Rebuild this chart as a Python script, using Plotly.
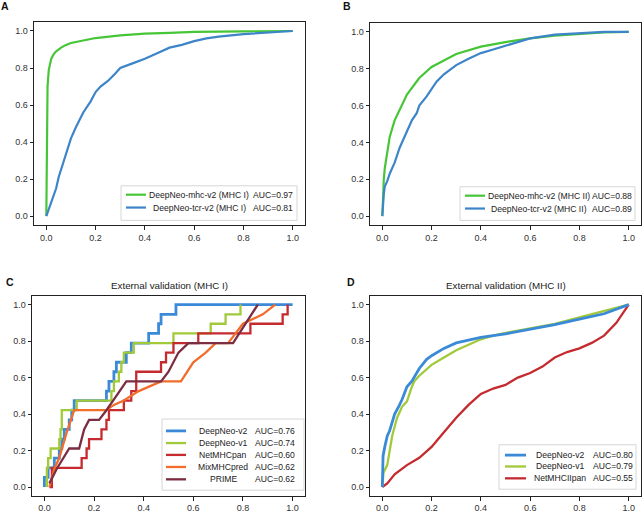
import plotly.graph_objects as go

# ---- panel A: MHC I
a_mhc_fpr = [0, 0.002, 0.005, 0.01, 0.02, 0.03, 0.04, 0.06, 0.08, 0.1, 0.15, 0.2, 0.3, 0.4, 0.5, 0.6, 0.8, 1.0]
a_mhc_tpr = [0, 0.45, 0.7, 0.79, 0.85, 0.875, 0.89, 0.91, 0.925, 0.935, 0.95, 0.962, 0.976, 0.986, 0.99, 0.995, 0.998, 1.0]
a_tcr_fpr = [0, 0.01, 0.02, 0.03, 0.04, 0.05, 0.06, 0.08, 0.1, 0.12, 0.15, 0.18, 0.2, 0.22, 0.25, 0.28, 0.3, 0.35,
             0.4, 0.45, 0.5, 0.55, 0.6, 0.65, 0.7, 0.8, 0.9, 1.0]
a_tcr_tpr = [0, 0.04, 0.08, 0.12, 0.15, 0.21, 0.25, 0.33, 0.42, 0.48, 0.56, 0.62, 0.67, 0.7, 0.73, 0.77, 0.8, 0.825,
             0.85, 0.88, 0.91, 0.925, 0.945, 0.96, 0.97, 0.983, 0.99, 1.0]

# ---- panel B: MHC II
b_mhc_fpr = [0, 0.003, 0.006, 0.01, 0.02, 0.03, 0.05, 0.08, 0.1, 0.15, 0.2, 0.3, 0.4, 0.5, 0.55, 0.6, 0.7, 0.8, 0.9, 1.0]
b_mhc_tpr = [0, 0.12, 0.2, 0.26, 0.36, 0.43, 0.52, 0.61, 0.66, 0.75, 0.81, 0.88, 0.92, 0.945, 0.955, 0.965, 0.98, 0.99, 0.997, 1.0]
b_tcr_fpr = [0, 0.003, 0.006, 0.01, 0.02, 0.03, 0.04, 0.05, 0.07, 0.08, 0.1, 0.12, 0.14, 0.15, 0.18, 0.2, 0.22, 0.25,
             0.3, 0.35, 0.4, 0.45, 0.5, 0.55, 0.6, 0.7, 0.8, 0.9, 1.0]
b_tcr_tpr = [0, 0.07, 0.12, 0.16, 0.19, 0.23, 0.26, 0.29, 0.37, 0.4, 0.46, 0.52, 0.56, 0.6, 0.65, 0.69, 0.73, 0.77,
             0.82, 0.855, 0.885, 0.905, 0.925, 0.945, 0.965, 0.985, 0.993, 1.0, 1.0]

# ---- panel C: external validation MHC I (19 positives)
c_v2_fpr = [0, 0, 0.015, 0.015, 0.04, 0.04, 0.06, 0.06, 0.07, 0.07, 0.08, 0.08, 0.1, 0.1, 0.11, 0.11, 0.12, 0.12,
            0.25, 0.25, 0.26, 0.26, 0.28, 0.28, 0.29, 0.29, 0.33, 0.33, 0.35, 0.35, 0.42, 0.42, 0.46, 0.46, 0.47, 0.47,
            0.53, 0.53, 1.0]
c_v2_tpr = [0, 0.053, 0.053, 0.105, 0.105, 0.158, 0.158, 0.211, 0.211, 0.263, 0.263, 0.316, 0.316, 0.368, 0.368,
            0.421, 0.421, 0.474, 0.474, 0.526, 0.526, 0.579, 0.579, 0.632, 0.632, 0.684, 0.684, 0.737, 0.737, 0.789,
            0.789, 0.842, 0.842, 0.895, 0.895, 0.947, 0.947, 1.0, 1.0]
c_v1_fpr = [0.01, 0.01, 0.015, 0.015, 0.025, 0.025, 0.06, 0.06, 0.065, 0.065, 0.07, 0.07, 0.13, 0.13, 0.27, 0.27,
            0.28, 0.28, 0.3, 0.3, 0.31, 0.31, 0.32, 0.32, 0.36, 0.36, 0.52, 0.52, 0.67, 0.67, 0.73, 0.73, 0.79, 0.79]
c_v1_tpr = [0, 0.105, 0.105, 0.158, 0.158, 0.211, 0.211, 0.263, 0.263, 0.316, 0.316, 0.421, 0.421, 0.474, 0.474,
            0.526, 0.526, 0.579, 0.579, 0.632, 0.632, 0.684, 0.684, 0.737, 0.737, 0.789, 0.789, 0.842, 0.842, 0.895,
            0.895, 0.947, 0.947, 1.0]
c_net_fpr = [0.02, 0.03, 0.03, 0.15, 0.15, 0.17, 0.17, 0.18, 0.18, 0.23, 0.23, 0.25, 0.25, 0.26, 0.26, 0.32, 0.32,
             0.35, 0.35, 0.37, 0.37, 0.47, 0.47, 0.49, 0.49, 0.52, 0.52, 0.62, 0.62, 0.83, 0.83, 0.96, 0.96, 0.98, 0.98]
c_net_tpr = [0, 0, 0.105, 0.105, 0.158, 0.158, 0.211, 0.211, 0.263, 0.263, 0.316, 0.316, 0.368, 0.368, 0.421, 0.421,
             0.474, 0.474, 0.526, 0.526, 0.632, 0.632, 0.684, 0.684, 0.737, 0.737, 0.789, 0.789, 0.842, 0.842, 0.895,
             0.895, 0.947, 0.947, 1.0]
c_mix_fpr = [0.02, 0.04, 0.06, 0.09, 0.12, 0.25, 0.28, 0.32, 0.38, 0.47, 0.55, 0.6, 0.65, 0.69, 0.74, 0.8, 0.88, 0.93]
c_mix_tpr = [0, 0.1, 0.16, 0.3, 0.421, 0.421, 0.45, 0.474, 0.526, 0.579, 0.579, 0.684, 0.737, 0.789, 0.789, 0.895, 0.947, 1.0]
c_prime_fpr = [0.02, 0.05, 0.1, 0.14, 0.16, 0.18, 0.22, 0.25, 0.29, 0.33, 0.47, 0.5, 0.54, 0.58, 0.76, 0.81, 0.86]
c_prime_tpr = [0.02, 0.1, 0.211, 0.211, 0.316, 0.368, 0.368, 0.421, 0.5, 0.579, 0.579, 0.632, 0.737, 0.789, 0.789, 0.895, 1.0]

# ---- panel D: external validation MHC II
d_v2_fpr = [0, 0.003, 0.01, 0.02, 0.03, 0.04, 0.05, 0.07, 0.08, 0.1, 0.12, 0.15, 0.18, 0.2, 0.25, 0.3, 0.35, 0.4,
            0.5, 0.6, 0.7, 0.8, 0.9, 1.0]
d_v2_tpr = [0, 0.17, 0.22, 0.28, 0.31, 0.35, 0.4, 0.45, 0.48, 0.55, 0.58, 0.65, 0.7, 0.72, 0.76, 0.79, 0.805, 0.82,
            0.84, 0.865, 0.89, 0.92, 0.95, 1.0]
d_v1_fpr = [0, 0.005, 0.02, 0.03, 0.04, 0.05, 0.06, 0.08, 0.1, 0.12, 0.13, 0.15, 0.2, 0.25, 0.3, 0.35, 0.4, 0.45,
            0.5, 0.6, 0.7, 0.8, 0.9, 1.0]
d_v1_tpr = [0, 0.08, 0.12, 0.2, 0.28, 0.33, 0.38, 0.44, 0.47, 0.55, 0.58, 0.61, 0.67, 0.71, 0.75, 0.78, 0.81, 0.83,
            0.845, 0.87, 0.895, 0.93, 0.965, 1.0]
d_net_fpr = [0, 0.02, 0.05, 0.08, 0.1, 0.15, 0.2, 0.25, 0.3, 0.35, 0.4, 0.45, 0.5, 0.55, 0.6, 0.65, 0.7, 0.75,
             0.8, 0.85, 0.9, 0.95, 1.0]
d_net_tpr = [0, 0.02, 0.07, 0.1, 0.12, 0.16, 0.22, 0.3, 0.38, 0.45, 0.51, 0.54, 0.56, 0.6, 0.625, 0.66, 0.71, 0.74,
             0.76, 0.79, 0.83, 0.9, 1.0]

# legend texts
a_names = ['DeepNeo-mhc-v2 (MHC I)', 'DeepNeo-tcr-v2 (MHC I)']
a_auc = ['AUC=0.97', 'AUC=0.81']
b_names = ['DeepNeo-mhc-v2 (MHC II)', 'DeepNeo-tcr-v2 (MHC II)']
b_auc = ['AUC=0.88', 'AUC=0.89']
c_names = ['DeepNeo-v2', 'DeepNeo-v1', 'NetMHCpan', 'MixMHCpred', 'PRIME']
c_auc = ['AUC=0.76', 'AUC=0.74', 'AUC=0.60', 'AUC=0.62', 'AUC=0.62']
d_names = ['DeepNeo-v2', 'DeepNeo-v1', 'NetMHCIIpan']
d_auc = ['AUC=0.80', 'AUC=0.79', 'AUC=0.55']
titles = ['External validation (MHC I)', 'External validation (MHC II)']

GREEN = '#46c637'
BLUE = '#3d85c8'
C_BLUE = '#3a8ad8'
C_LIME = '#a2c93a'
C_RED = '#c42a2e'
C_ORANGE = '#f26c2c'
C_MAROON = '#7b2d42'

FONT = 'Liberation Sans, Arial, sans-serif'
W, H = 644, 513


def px_x(p):
    return p / W


def px_y(p):
    return 1 - p / H


# axis boxes in pixels: (left, right, top, bottom)
boxes = {
    '': (34, 305, 22, 228),
    '2': (370, 641, 23, 228),
    '3': (32, 305, 299, 502),
    '4': (370, 641, 299, 502),
}

fig = go.Figure()


def add(x, y, color, axis, width):
    fig.add_trace(go.Scatter(
        x=x, y=y, mode='lines', showlegend=False, hoverinfo='skip',
        line=dict(color=color, width=width),
        xaxis='x' + axis, yaxis='y' + axis,
    ))


add(a_mhc_fpr, a_mhc_tpr, GREEN, '', 2.2)
add(a_tcr_fpr, a_tcr_tpr, BLUE, '', 2.2)
add(b_mhc_fpr, b_mhc_tpr, GREEN, '2', 2.2)
add(b_tcr_fpr, b_tcr_tpr, BLUE, '2', 2.2)

c_colors = [C_BLUE, C_LIME, C_RED, C_ORANGE, C_MAROON]
c_widths = [2.8, 2.3, 2.3, 2.3, 2.3]
for xs, ys, col, w in zip([c_v2_fpr, c_v1_fpr, c_net_fpr, c_mix_fpr, c_prime_fpr],
                          [c_v2_tpr, c_v1_tpr, c_net_tpr, c_mix_tpr, c_prime_tpr], c_colors, c_widths):
    add(xs, ys, col, '3', w)

d_colors = [C_BLUE, C_LIME, C_RED]
d_widths = [2.8, 2.3, 2.3]
# draw red first so the blue/green stay on top like the reference
add(d_net_fpr, d_net_tpr, C_RED, '4', 2.3)
add(d_v1_fpr, d_v1_tpr, C_LIME, '4', 2.3)
add(d_v2_fpr, d_v2_tpr, C_BLUE, '4', 2.8)

axis_style = dict(
    range=[-0.05, 1.05], dtick=0.2, tick0=0, tickformat='.1f',
    showline=True, linecolor='#222', linewidth=1, mirror=True,
    ticks='outside', ticklen=3.5, tickcolor='#222',
    showgrid=False, zeroline=False,
    tickfont=dict(size=9, color='#333', family=FONT),
)

layout = dict(
    width=W, height=H, margin=dict(l=0, r=0, t=0, b=0),
    paper_bgcolor='white', plot_bgcolor='white',
    font=dict(family=FONT, color='#222'),
    showlegend=False,
)
for k, (l, r, t, b) in boxes.items():
    layout['xaxis' + k] = dict(axis_style, domain=[px_x(l), px_x(r)], anchor='y' + k)
    layout['yaxis' + k] = dict(axis_style, domain=[px_y(b), px_y(t)], anchor='x' + k)
fig.update_layout(**layout)


# hand-drawn legends (matplotlib style, compact rows)
def legend(box, line_x, rows, name_cx, auc_x, names, aucs, colors, widths):
    l, r, t, b = box
    fig.add_shape(type='rect', xref='paper', yref='paper',
                  x0=px_x(l), x1=px_x(r), y0=px_y(b), y1=px_y(t),
                  line=dict(color='#d6d6d6', width=1), fillcolor='white')
    for y, name, auc, col, w in zip(rows, names, aucs, colors, widths):
        fig.add_shape(type='line', xref='paper', yref='paper',
                      x0=px_x(line_x[0]), x1=px_x(line_x[1]), y0=px_y(y), y1=px_y(y),
                      line=dict(color=col, width=w))
        fig.add_annotation(text=name, x=px_x(name_cx), y=px_y(y), xref='paper', yref='paper',
                           showarrow=False, xanchor='center', yanchor='middle',
                           font=dict(size=8.6, color='#222', family=FONT))
        fig.add_annotation(text=auc, x=px_x(auc_x), y=px_y(y), xref='paper', yref='paper',
                           showarrow=False, xanchor='left', yanchor='middle',
                           font=dict(size=8.6, color='#222', family=FONT))


legend((121, 297, 188, 223), (126, 146), [197, 210], 199, 251, a_names, a_auc,
       [GREEN, BLUE], [2.2, 2.2])
legend((460, 635, 189, 223), (465, 485), [198, 211], 539, 590, b_names, b_auc,
       [GREEN, BLUE], [2.2, 2.2])
legend((162, 304, 424, 496), (166, 186), [436, 448.3, 460.3, 472.5, 485], 223, 253, c_names, c_auc,
       c_colors, c_widths)
legend((499, 636, 450, 495), (505, 526), [460.5, 472, 484], 560, 591, d_names, d_auc,
       d_colors, d_widths)

# panel letters and titles
labels = [('A', 5, 6.5), ('B', 347, 6.5), ('C', 10, 285), ('D', 351, 285)]
for txt, x, y in labels:
    fig.add_annotation(text='<b>' + txt + '</b>', x=px_x(x), y=px_y(y), xref='paper', yref='paper',
                       showarrow=False, xanchor='center', yanchor='middle',
                       font=dict(size=10.5, color='#111', family=FONT))
for txt, x in zip(titles, [169, 506]):
    fig.add_annotation(text=txt, x=px_x(x), y=px_y(289), xref='paper', yref='paper',
                       showarrow=False, xanchor='center', yanchor='middle',
                       font=dict(size=9.8, color='#222', family=FONT))

fig.write_html('out.html', config={'displayModeBar': False},
               post_script="document.body.style.margin='0px';")
